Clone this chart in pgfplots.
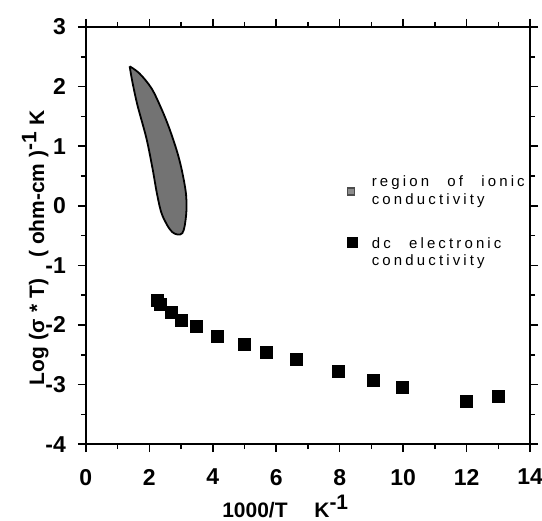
\documentclass[border=0pt]{standalone}
\usepackage{fontspec}
\setmainfont{Liberation Sans}
\newfontfamily\legfont[LetterSpace=21, WordSpace=2.5]{Liberation Sans}
\usepackage{pgfplots}
\pgfplotsset{compat=1.18}
\begin{document}
\begin{tikzpicture}
\begin{axis}[
    scale only axis,
    width=222.5pt, height=209pt,
    xmin=0, xmax=14, ymin=-4, ymax=3,
    xtick={0,2,...,14}, ytick={-4,-3,...,3},
    minor x tick num=1, minor y tick num=1,
    tick align=outside,
    major tick length=4pt, minor tick length=2.5pt,
    axis line style={line width=0.8pt},
    every tick/.style={black, line width=0.8pt},
    ticklabel style={font=\fontsize{11.5}{13}\selectfont\bfseries},
    /pgf/number format/assume math mode=true,
    xticklabel style={yshift=-5pt},
    yticklabel style={xshift=-2.5pt},
    xlabel={1000/T\quad\ K$^{\textbf{-1}}$},
    ylabel={Log (σ\,\,* T)\quad ( ohm-cm )$^{\textbf{-1}}$ K},
    label style={font=\fontsize{10.5}{12}\selectfont\bfseries},
    xlabel style={at={(axis description cs:0.45,0)}, anchor=north, yshift=-22pt},
    ylabel style={yshift=-8.5pt, xshift=-6pt},
    legend style={at={(axis cs:8.33,0.64)}, anchor=north west, draw=none, fill=none,
        font=\fontsize{7.5}{8.6}\selectfont\legfont, cells={align=left},
        row sep=11.5pt},
    legend cell align=left,
]
% region of ionic conductivity
\addplot[draw=black, line width=0.9pt, fill=black!55, smooth, tension=0.55,
    area legend,
    legend image code/.code={\path[draw=none, fill=none] (0,0) rectangle (0.2cm,0.15cm);
        \draw[overlay, fill=black!45, draw=black!70] (-0.16cm,-0.06cm) rectangle (-0.037cm,0.063cm);}]
    coordinates {
    (1.38,2.34)(1.69,2.22)(2.07,1.97)(2.38,1.63)(2.63,1.30)(2.88,0.90)(3.04,0.56)
    (3.16,0.18)(3.16,-0.16)(3.04,-0.46)(2.72,-0.44)(2.41,-0.16)(2.25,0.18)
    (2.10,0.63)(1.91,1.13)(1.63,1.68)(1.47,2.07)(1.38,2.34)
    };
\addlegendentry{region of ionic\\conductivity}
% dc electronic conductivity
\addplot[only marks, mark=square*, mark size=3pt, black,
    legend image code/.code={\path[draw=none, fill=none] (0,0) rectangle (0.2cm,0.15cm);
        \fill[overlay, black] (-0.16cm,0.105cm) rectangle (0.016cm,0.28cm);}]
    coordinates {
    (2.26,-1.59)(2.35,-1.66)(2.70,-1.79)(3.00,-1.93)(3.47,-2.03)(4.15,-2.19)
    (5.00,-2.33)(5.70,-2.46)(6.65,-2.58)(7.96,-2.78)(9.06,-2.93)(9.97,-3.05)
    (12.0,-3.28)(13.0,-3.20)
    };
\addlegendentry{dc electronic\\conductivity}
\end{axis}
\pgfresetboundingbox
\path[use as bounding box] ([shift={(-43pt,-38pt)}]current axis.south west)
    rectangle ([shift={(6pt,13.5pt)}]current axis.north east);
\end{tikzpicture}
\end{document}
